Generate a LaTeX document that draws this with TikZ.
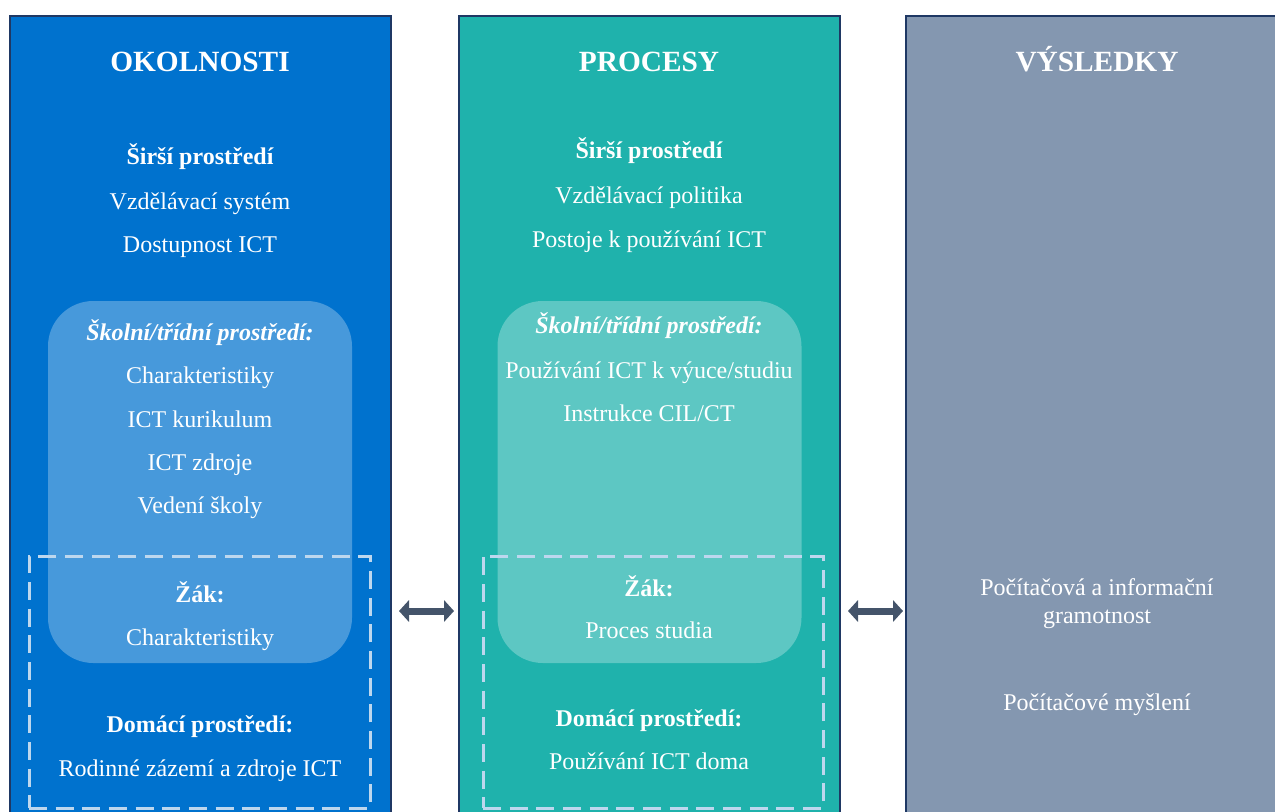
\documentclass[tikz,border=0pt]{standalone}
\usepackage{fontspec}
\setmainfont{Liberation Serif}
\usetikzlibrary{arrows.meta}

\definecolor{okolblue}{HTML}{0072CE}
\definecolor{procteal}{HTML}{1FB2AC}
\definecolor{vyslgray}{HTML}{8497B0}
\definecolor{framenavy}{HTML}{1F3864}
\definecolor{dashblue}{HTML}{BDD7EE}
\definecolor{linkgray}{HTML}{44546A}

\begin{document}
\begin{tikzpicture}[
    x=0.75pt,
    y=-0.75pt,
    column/.style={
        rectangle,
        draw=framenavy,
        line width=1.5pt,
        minimum height=610.5pt,
        inner sep=0pt
    },
    school/.style={
        rectangle,
        rounded corners=34pt,
        fill=white,
        fill opacity=0.28,
        minimum width=228pt,
        minimum height=271.5pt,
        inner sep=0pt
    },
    home/.style={
        rectangle,
        draw=dashblue,
        line width=2.25pt,
        dash pattern=on 13.5pt off 6.5pt,
        minimum width=256pt,
        minimum height=189pt,
        inner sep=0pt
    },
    title/.style={
        anchor=base,
        text=white,
        font=\fontsize{22}{26}\selectfont\bfseries
    },
    item/.style={
        anchor=base,
        text=white,
        align=center,
        inner sep=0pt,
        font=\fontsize{18}{21}\selectfont
    },
    head/.style={
        item,
        font=\fontsize{18}{21}\selectfont\bfseries
    },
    link/.style={
        {Triangle[length=7.5pt,width=16pt]}-{Triangle[length=7.5pt,width=16pt]},
        linkgray,
        line width=5.25pt
    }
]

\useasboundingbox (0,0) rectangle (1275,811);

% the three columns
\node[column, fill=okolblue, minimum width=285.75pt] (okol) at (200.5,423) {};
\node[column, fill=procteal, minimum width=285.75pt] (proc) at (649.5,423) {};
\node[column, fill=vyslgray, minimum width=288pt] (vysl) at (1098,423) {};

% school and home areas
\node[school] (okolskola) at (200,482) {};
\node[school] (procskola) at (649.5,482) {};
\node[home, minimum width=255.75pt] (okoldomov) at (199.5,682) {};
\node[home, minimum width=255pt] (procdomov) at (653,682) {};

% left column
\node[title] (T1) at (200,71) {OKOLNOSTI};
\node[head] (L1) at (200,164) {Širší prostředí};
\node[item] (L2) at (200,209) {Vzdělávací systém};
\node[item] (L3) at (200,252) {Dostupnost ICT};
\node[head] (L4) at (200,340) {\itshape Školní/třídní prostředí:};
\node[item] (L5) at (200,383) {Charakteristiky};
\node[item] (L6) at (200,427) {ICT kurikulum};
\node[item] (L7) at (200,470) {ICT zdroje};
\node[item] (L8) at (200,513) {Vedení školy};
\node[head] (L9) at (200,602) {Žák:};
\node[item] (L10) at (200,645) {Charakteristiky};
\node[head] (L11) at (200,732) {Domácí prostředí:};
\node[item] (L12) at (200,776) {Rodinné zázemí a zdroje ICT};

% middle column
\node[title] (T2) at (649,71) {PROCESY};
\node[head] (P1) at (649,158) {Širší prostředí};
\node[item] (P2) at (649,203) {Vzdělávací politika};
\node[item] (P3) at (649,247) {Postoje k používání ICT};
\node[head] (P4) at (649,333) {\itshape Školní/třídní prostředí:};
\node[item] (P5) at (649,378) {Používání ICT k výuce/studiu};
\node[item] (P6) at (649,421) {Instrukce CIL/CT};
\node[head] (P7) at (649,596) {Žák:};
\node[item] (P8) at (649,638) {Proces studia};
\node[head] (P9) at (649,726) {Domácí prostředí:};
\node[item] (P10) at (649,769) {Používání ICT doma};

% right column (base sits on the last line)
\node[title] (T3) at (1097,71) {VÝSLEDKY};
\node[item] (V1) at (1097,623) {
    Počítačová a informační\\
    gramotnost
};
\node[item] (V2) at (1097,710) {Počítačové myšlení};

% links between columns
\coordinate (linky) at (0,611);
\draw[link, shorten <=5.25pt, shorten >=3pt]
    (okol.east |- linky) -- (proc.west |- linky);
\draw[link, shorten <=5.25pt, shorten >=1.5pt]
    (proc.east |- linky) -- (vysl.west |- linky);

\end{tikzpicture}
\end{document}
